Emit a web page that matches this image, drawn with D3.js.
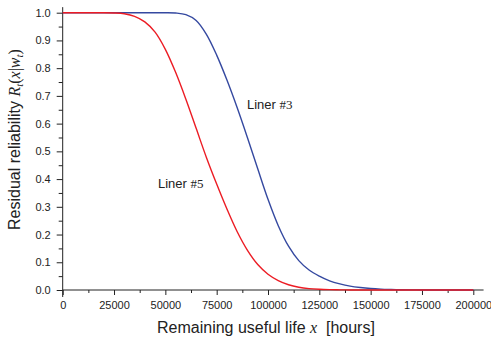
<!DOCTYPE html>
<html>
<head>
<meta charset="utf-8">
<script src="https://cdn.jsdelivr.net/npm/d3@7"></script>
<style>
  html, body { margin: 0; padding: 0; background: #fff; }
  svg { display: block; }
  .tick text { font-family: "Liberation Sans", Arial, sans-serif; font-size: 11px; fill: #222; }
</style>
</head>
<body>
<svg id="chart" width="491" height="342"></svg>
<script>
// Remaining useful life, hours
const hours = [0, 5000, 10000, 15000, 20000, 25000, 30000, 35000, 40000, 45000,
  50000, 55000, 60000, 65000, 70000, 75000, 80000, 85000, 90000, 95000,
  100000, 105000, 110000, 115000, 120000, 125000, 130000, 135000, 140000, 145000,
  150000, 155000, 160000, 165000, 170000, 175000, 180000, 190000, 200000];

// Residual reliability for liner #3
const liner3 = [1, 1, 1, 1, 1, 1, 1, 1, 1, 1,
  1, 0.999, 0.993, 0.972, 0.922, 0.847, 0.757, 0.657, 0.549, 0.437,
  0.327, 0.232, 0.158, 0.106, 0.072, 0.05, 0.033, 0.022, 0.014, 0.009,
  0.0055, 0.0033, 0.002, 0.001, 0.0005, 0.0002, 0, 0, 0];

// Residual reliability for liner #5
const liner5 = [1, 1, 1, 1, 1, 0.999, 0.996, 0.987, 0.967, 0.93,
  0.868, 0.785, 0.688, 0.583, 0.478, 0.382, 0.292, 0.21, 0.143, 0.092,
  0.057, 0.034, 0.019, 0.01, 0.005, 0.0025, 0.0012, 0.0005, 0.0002, 0,
  0, 0, 0, 0, 0, 0, 0, 0, 0];

const xTicks = [0, 25000, 50000, 75000, 100000, 125000, 150000, 175000, 200000];
const yTicks = [0, 0.1, 0.2, 0.3, 0.4, 0.5, 0.6, 0.7, 0.8, 0.9, 1.0];

const svg = d3.select("#chart");
const plotLeft = 62.7, plotRight = 473.3, plotTop = 12.7, plotBottom = 290;

const x = d3.scaleLinear().domain([0, 200000]).range([plotLeft, plotRight]);
const y = d3.scaleLinear().domain([0, 1]).range([plotBottom, plotTop]);

const axisColor = "#222";

// minor ticks
const xMinor = d3.range(12500, 200001, 25000);
const yMinor = d3.range(0.05, 1.0, 0.1);

const gxMinor = svg.append("g").attr("transform", `translate(0,${plotBottom})`)
  .call(d3.axisBottom(x).tickValues(xMinor).tickSize(3).tickFormat(""));
const gyMinor = svg.append("g").attr("transform", `translate(${plotLeft},0)`)
  .call(d3.axisLeft(y).tickValues(yMinor).tickSize(4).tickFormat(""));
[gxMinor, gyMinor].forEach(g => {
  g.select(".domain").remove();
  g.selectAll(".tick line").attr("stroke", axisColor);
});

const gx = svg.append("g").attr("transform", `translate(0,${plotBottom})`)
  .call(d3.axisBottom(x).tickValues(xTicks).tickSize(5).tickPadding(6).tickFormat(d3.format("d")));
const gy = svg.append("g").attr("transform", `translate(${plotLeft},0)`)
  .call(d3.axisLeft(y).tickValues(yTicks).tickSize(6).tickPadding(6).tickFormat(d3.format(".1f")));
[gx, gy].forEach(g => {
  g.select(".domain").remove();
  g.selectAll(".tick line").attr("stroke", axisColor);
});

// axis lines, running a little past the data range
svg.append("line")
  .attr("x1", x(0)).attr("x2", x(205000))
  .attr("y1", plotBottom).attr("y2", plotBottom)
  .attr("stroke", axisColor).attr("stroke-width", 1);
svg.append("line")
  .attr("x1", plotLeft).attr("x2", plotLeft)
  .attr("y1", plotBottom + 7).attr("y2", y(1.02))
  .attr("stroke", axisColor).attr("stroke-width", 1);

// curves
const line = d3.line()
  .x((d, i) => x(hours[i]))
  .y(d => y(d))
  .curve(d3.curveCatmullRom.alpha(0.5));

svg.append("path").datum(liner3)
  .attr("d", line).attr("fill", "none")
  .attr("stroke", "#3549a0").attr("stroke-width", 1.4);
svg.append("path").datum(liner5)
  .attr("d", line).attr("fill", "none")
  .attr("stroke", "#ec1c24").attr("stroke-width", 1.4);

// curve labels
function curveLabel(px, py, num) {
  const t = svg.append("text").attr("x", px).attr("y", py)
    .attr("font-size", 13).attr("fill", "#222");
  t.append("tspan").attr("font-family", "Liberation Sans, Arial, sans-serif").text("Liner ");
  t.append("tspan").attr("font-family", "Liberation Serif, Times New Roman, serif").text(num);
}
curveLabel(247, 109, "#3");
curveLabel(158, 188, "#5");

// x axis title
const xt = svg.append("text").attr("x", 157).attr("y", 333)
  .attr("font-size", 16).attr("fill", "#222")
  .attr("font-family", "Liberation Sans, Arial, sans-serif");
xt.append("tspan").text("Remaining useful life ");
xt.append("tspan").attr("font-family", "Liberation Serif, Times New Roman, serif")
  .attr("font-style", "italic").text("x");
xt.append("tspan").text("\u00a0 [hours]");

// y axis title
const serif = "Liberation Serif, Times New Roman, serif";
const yt = svg.append("text")
  .attr("transform", `translate(20,230) rotate(-90)`)
  .attr("font-size", 16).attr("fill", "#222")
  .attr("font-family", "Liberation Sans, Arial, sans-serif");
yt.append("tspan").text("Residual reliability ");
yt.append("tspan").attr("font-family", serif).attr("font-style", "italic").text("R");
yt.append("tspan").attr("font-family", serif).attr("font-style", "italic")
  .attr("font-size", 11).attr("dy", 3).text("t");
yt.append("tspan").attr("font-family", serif).attr("dy", -3).text("(");
yt.append("tspan").attr("font-family", serif).attr("font-style", "italic").text("x");
yt.append("tspan").attr("font-family", serif).text("|");
yt.append("tspan").attr("font-family", serif).attr("font-style", "italic").text("w");
yt.append("tspan").attr("font-family", serif).attr("font-style", "italic")
  .attr("font-size", 11).attr("dy", 3).text("t");
yt.append("tspan").attr("font-family", serif).attr("dy", -3).text(")");
</script>
</body>
</html>
